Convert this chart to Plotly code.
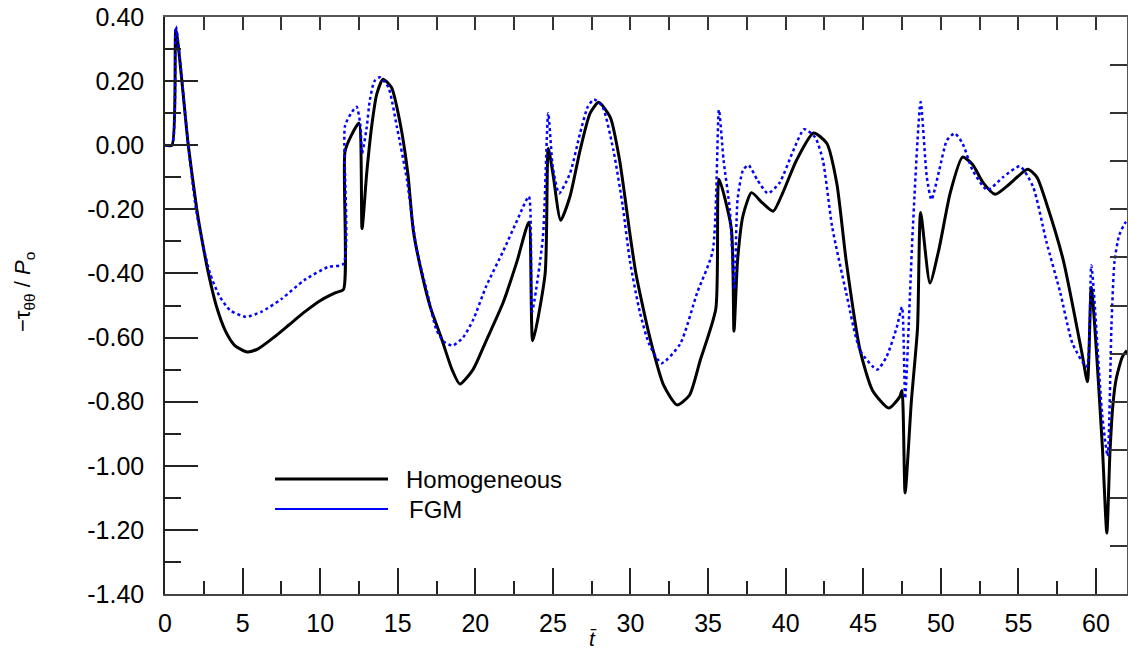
import plotly.graph_objects as go

# ---- data ----
t_hom = [0, 0.45, 0.7, 1.5, 2.05, 2.4, 2.8, 3.3, 3.9, 4.5, 5.3, 6.0, 7.0, 8.0, 9.0, 10.0, 11.0, 11.5,
         11.6, 12.0, 12.5, 12.7, 13.0, 13.35, 13.65, 14.05, 14.6, 15.15, 15.65, 16.0, 16.55, 17.1, 17.8,
         18.5, 19.0, 19.85, 20.7, 21.8, 22.7, 23.45, 23.7, 24.5, 24.7, 25.0, 25.5, 26.1, 26.75, 27.4,
         27.95, 28.7, 29.3, 29.96, 30.35, 31.25, 32.15, 33.0, 33.8, 34.5, 35.5, 35.7, 36.5, 36.67, 36.9,
         37.25, 37.8, 38.5, 39.2, 39.8, 40.7, 41.8, 42.65, 43.3, 43.9, 44.8, 45.6, 46.65, 47.35, 47.5,
         47.7, 48.1, 48.5, 48.7, 49.3, 49.9, 50.6, 51.4, 52.05, 52.7, 53.5, 54.45, 55.6, 56.2, 56.8,
         57.9, 59.1, 59.45, 59.7, 60.4, 60.7, 60.9, 61.1, 61.3, 61.7, 62.0]
v_hom = [0, 0, 0.36, 0.0, -0.2, -0.3, -0.4, -0.5, -0.58, -0.625, -0.645, -0.635, -0.6, -0.56, -0.52,
         -0.485, -0.46, -0.45, -0.02, 0.03, 0.069, -0.26, -0.087, 0.07, 0.16, 0.206, 0.18, 0.07, -0.088,
         -0.265, -0.40, -0.505, -0.6, -0.7, -0.745, -0.70, -0.61, -0.49, -0.36, -0.24, -0.61, -0.40,
         -0.01, -0.088, -0.234, -0.16, -0.016, 0.10, 0.134, 0.087, -0.047, -0.275, -0.4, -0.6, -0.75,
         -0.81, -0.78, -0.67, -0.51, -0.106, -0.26, -0.58, -0.36, -0.22, -0.148, -0.18, -0.206, -0.15,
         -0.047, 0.038, 0.006, -0.12, -0.36, -0.64, -0.765, -0.82, -0.785, -0.765, -1.085, -0.80, -0.57,
         -0.21, -0.43, -0.32, -0.15, -0.037, -0.06, -0.115, -0.153, -0.12, -0.075, -0.10, -0.18, -0.36,
         -0.65, -0.738, -0.443, -0.93, -1.21, -0.96, -0.805, -0.73, -0.66, -0.64]

t_fgm = [0, 0.45, 0.7, 1.5, 2.0, 2.4, 2.9, 3.5, 4.2, 5.2, 6.2, 7.5, 9.0, 10.5, 11.5, 11.6, 12.0, 12.35,
         12.6, 12.7, 13.0, 13.2, 13.5, 13.85, 14.4, 14.95, 15.6, 16.2, 16.9, 17.5, 18.0, 18.55, 19.2,
         19.85, 20.7, 21.8, 22.7, 23.45, 23.65, 24.35, 24.7, 25.0, 25.4, 26.1, 26.75, 27.25, 27.65, 28.2,
         28.9, 29.5, 29.96, 30.6, 31.2, 32.0, 33.2, 34.3, 35.3, 35.7, 36.0, 36.4, 36.7, 36.9, 37.25,
         37.6, 38.2, 38.85, 39.6, 40.5, 41.2, 41.9, 42.4, 43.0, 43.9, 44.8, 45.9, 46.5, 47.15, 47.5,
         47.7, 48.0, 48.2, 48.7, 49.1, 49.4, 49.9, 50.4, 50.9, 51.4, 52.05, 53.0, 54.0, 55.1, 55.95,
         56.8, 57.7, 58.5, 59.4, 59.7, 60.4, 60.75, 61.0, 61.2, 61.5, 61.85, 62.0]
v_fgm = [0, 0, 0.37, 0.0, -0.2, -0.3, -0.4, -0.47, -0.515, -0.535, -0.52, -0.48, -0.42, -0.38, -0.37,
         0.06, 0.1, 0.12, 0.06, -0.025, 0.056, 0.14, 0.20, 0.212, 0.18, 0.056, -0.11, -0.32, -0.46,
         -0.577, -0.614, -0.625, -0.60, -0.546, -0.44, -0.33, -0.234, -0.16, -0.52, -0.29, 0.10, -0.07,
         -0.15, -0.088, 0.037, 0.12, 0.143, 0.12, -0.016, -0.19, -0.36, -0.52, -0.62, -0.68, -0.62,
         -0.46, -0.33, 0.11, -0.047, -0.2, -0.45, -0.17, -0.078, -0.062, -0.11, -0.15, -0.118, -0.016,
         0.05, 0.025, -0.047, -0.255, -0.46, -0.64, -0.70, -0.66, -0.57, -0.505, -0.79, -0.48, -0.256,
         0.135, -0.1, -0.17, -0.078, 0.016, 0.037, 0.006, -0.078, -0.14, -0.1, -0.066, -0.13, -0.30,
         -0.46, -0.62, -0.69, -0.375, -0.84, -0.97, -0.56, -0.36, -0.28, -0.245, -0.235]

series_names = ["Homogeneous", "FGM"]
y_tick_vals = [0.4, 0.2, 0.0, -0.2, -0.4, -0.6, -0.8, -1.0, -1.2, -1.4]
y_tick_text = ["0.40", "0.20", "0.00", "-0.20", "-0.40", "-0.60", "-0.80", "-1.00", "-1.20", "-1.40"]
x_tick_vals = [0, 5, 10, 15, 20, 25, 30, 35, 40, 45, 50, 55, 60]

FONT = "Liberation Sans, Arial, sans-serif"
FIG_W, FIG_H = 1128, 653
ML, MR, MT, MB = 165, 1, 17, 59
PW = FIG_W - ML - MR
PH = FIG_H - MT - MB


def px_to_paper(px, py):
    """convert a screen pixel position to paper coordinates"""
    return (px - ML) / PW, (FIG_H - MB - py) / PH


fig = go.Figure()
fig.add_trace(go.Scatter(x=t_hom, y=v_hom, mode="lines", name=series_names[0],
                         line=dict(color="black", width=3, shape="spline", smoothing=0.6),
                         showlegend=False))
fig.add_trace(go.Scatter(x=t_fgm, y=v_fgm, mode="lines", name=series_names[1],
                         line=dict(color="#0000ff", width=2.5, dash="dot", shape="spline", smoothing=0.6),
                         showlegend=False))
# empty traces so the frame axes (top / right) are drawn
fig.add_trace(go.Scatter(x=[None], y=[None], xaxis="x2", yaxis="y", mode="lines",
                         showlegend=False, hoverinfo="skip"))
fig.add_trace(go.Scatter(x=[None], y=[None], xaxis="x", yaxis="y2", mode="lines",
                         showlegend=False, hoverinfo="skip"))

fig.update_layout(
    width=FIG_W, height=FIG_H,
    margin=dict(l=ML, r=MR, t=MT, b=MB),
    paper_bgcolor="white", plot_bgcolor="white",
    font=dict(family=FONT, size=22, color="black"),
    xaxis=dict(type="linear", range=[0, 62], tickvals=x_tick_vals, ticks="inside", ticklen=26,
               tickwidth=1.5, tickcolor="#222", showgrid=False, zeroline=False, showline=True,
               linecolor="#444", linewidth=1.5, tickfont=dict(size=25), ticklabelstandoff=6,
               ticklabeloverflow="allow",
               minor=dict(dtick=2.5, ticks="inside", ticklen=13, tickwidth=1.5, tickcolor="#222",
                          showgrid=False)),
    yaxis=dict(type="linear", range=[-1.4, 0.4], tickvals=y_tick_vals, ticktext=y_tick_text,
               ticks="inside", ticklen=33, tickwidth=1.5, tickcolor="#222", showgrid=False,
               zeroline=False, showline=True, linecolor="#222", linewidth=1.5,
               tickfont=dict(size=25), ticklabelstandoff=14, ticklabeloverflow="allow",
               minor=dict(dtick=0.1, ticks="inside", ticklen=16, tickwidth=1.5, tickcolor="#222",
                          showgrid=False)),
    xaxis2=dict(type="linear", range=[0, 62], overlaying="x", side="top", anchor="y",
                tickmode="linear", dtick=2.5, tick0=0, ticks="inside", ticklen=13, tickwidth=1.5,
                tickcolor="#333", showticklabels=False, showgrid=False, zeroline=False,
                showline=True, linecolor="#555", linewidth=1.5),
    yaxis2=dict(type="linear", range=[0, 12], overlaying="y", side="right", anchor="x",
                tickmode="linear", dtick=1, tick0=0, ticks="inside", ticklen=17, tickwidth=1.5,
                tickcolor="#333", showticklabels=False, showgrid=False, zeroline=False,
                showline=True, linecolor="#555", linewidth=1.5),
)

# manual legend
lx0, _ = px_to_paper(275, 0)
lx1, _ = px_to_paper(388, 0)
legend_rows = [(series_names[0], "black", 3, 479, 404), (series_names[1], "#0000ff", 2, 509, 407)]
for name, col, w, py, tx in legend_rows:
    _, yp = px_to_paper(0, py)
    xt, _ = px_to_paper(tx, 0)
    fig.add_shape(type="line", xref="paper", yref="paper", x0=lx0, x1=lx1, y0=yp, y1=yp,
                  line=dict(color=col, width=w))
    fig.add_annotation(xref="paper", yref="paper", x=xt, y=yp, text=name, showarrow=False,
                       xanchor="left", yanchor="middle", font=dict(family=FONT, size=24))

# axis titles
ax, ay = px_to_paper(24, 292)
fig.add_annotation(xref="paper", yref="paper", x=ax, y=ay,
                   text="\u2212\u03c4<sub>\u03b8\u03b8</sub> / <i>P</i><sub>o</sub>", textangle=-90,
                   showarrow=False, xanchor="center", yanchor="middle",
                   font=dict(family=FONT, size=22))
tx_, ty_ = px_to_paper(593, 638)
fig.add_annotation(xref="paper", yref="paper", x=tx_, y=ty_,
                   text="<i>t\u0304</i>", showarrow=False, xanchor="center", yanchor="middle",
                   font=dict(family=FONT, size=21))

# remove the browser's default 8px body margin so the figure fills the window exactly
fig.write_html("out.html", config={"displayModeBar": False},
               post_script="document.body.style.margin='0px';")
